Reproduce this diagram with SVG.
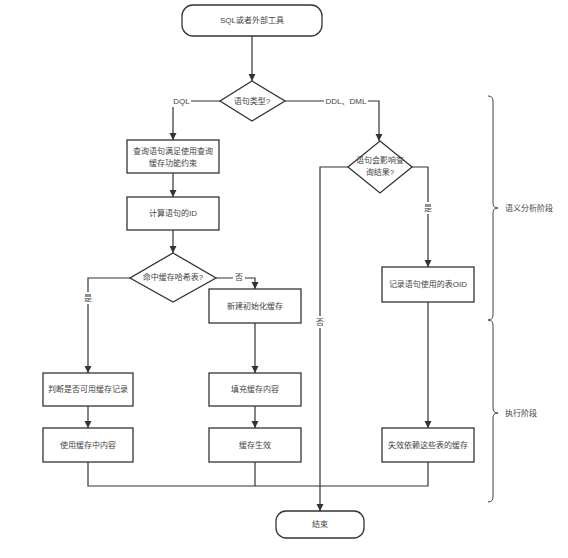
<svg xmlns="http://www.w3.org/2000/svg" width="568" height="558" viewBox="0 0 568 558">
<style>
.n{fill:#fff;stroke:#333;stroke-width:1.3}
.c{fill:none;stroke:#333;stroke-width:1.2}
.b{fill:none;stroke:#444;stroke-width:1}
text{font-family:"Liberation Sans","Noto Sans CJK SC",sans-serif;font-size:8px;fill:#444;text-anchor:middle;dominant-baseline:central}
.lb{fill:#fff;stroke:none}
</style>
<defs>
<marker id="ar" markerWidth="8" markerHeight="8" refX="7" refY="4" orient="auto" markerUnits="userSpaceOnUse">
<path d="M0,0.5 L7,4 L0,7.5 Z" fill="#333"/>
</marker>
</defs>
<rect width="568" height="558" fill="#fff"/>
<g id="connectors">
<path class="c" d="M252,36 V81" marker-end="url(#ar)"/>
<path class="c" d="M220,101 H173 V140" marker-end="url(#ar)"/>
<path class="c" d="M173,173 V197" marker-end="url(#ar)"/>
<path class="c" d="M173,230 V253" marker-end="url(#ar)"/>
<path class="c" d="M216,278 H255 V289" marker-end="url(#ar)"/>
<path class="c" d="M130,278 H88 V373" marker-end="url(#ar)"/>
<path class="c" d="M88,406 V428" marker-end="url(#ar)"/>
<path class="c" d="M255,323 V373" marker-end="url(#ar)"/>
<path class="c" d="M255,406 V428" marker-end="url(#ar)"/>
<path class="c" d="M88,462 V486 H428 V462"/>
<path class="c" d="M255,462 V486"/>
<path class="c" d="M285,101 H379 V141" marker-end="url(#ar)"/>
<path class="c" d="M412,167 H428 V267" marker-end="url(#ar)"/>
<path class="c" d="M428,302 V428" marker-end="url(#ar)"/>
<path class="c" d="M348,167 H320 V511" marker-end="url(#ar)"/>
<rect class="lb" x="172" y="95" width="19" height="12"/>
<text x="181.5" y="101">DQL</text>
<rect class="lb" x="324" y="95" width="44" height="12"/>
<text x="346" y="101">DDL、DML</text>
<rect class="lb" x="233" y="272" width="12" height="11"/>
<text x="239" y="277">否</text>
<rect class="lb" x="83" y="292" width="10" height="12"/>
<text x="88" y="298">是</text>
<rect class="lb" x="423" y="202" width="10" height="12"/>
<text x="428" y="208">是</text>
<rect class="lb" x="315" y="316" width="10" height="12"/>
<text x="320" y="322">否</text>
</g>
<g id="start"><rect class="n" x="182" y="5" width="140" height="31" rx="11"/><text x="252" y="20.5">SQL或者外部工具</text></g>
<g id="d-type"><polygon class="n" points="252,81 285,101 252,121 220,101"/><text x="252" y="101">语句类型?</text></g>
<g id="b-check"><rect class="n" x="127" y="140" width="92" height="33"/><text x="173" y="151">查询语句满足使用查询</text><text x="173" y="163">缓存功能约束</text></g>
<g id="b-id"><rect class="n" x="127" y="197" width="92" height="33"/><text x="173" y="213.5">计算语句的ID</text></g>
<g id="d-hit"><polygon class="n" points="173,253 216,278 173,302 130,278"/><text x="173" y="277.5">命中缓存哈希表?</text></g>
<g id="b-new"><rect class="n" x="209" y="289" width="92" height="34"/><text x="255" y="306">新建初始化缓存</text></g>
<g id="b-judge"><rect class="n" x="43" y="373" width="90" height="33"/><text x="88" y="389.5">判断是否可用缓存记录</text></g>
<g id="b-use"><rect class="n" x="43" y="428" width="90" height="34"/><text x="88" y="445">使用缓存中内容</text></g>
<g id="b-fill"><rect class="n" x="209" y="373" width="92" height="33"/><text x="255" y="389.5">填充缓存内容</text></g>
<g id="b-valid"><rect class="n" x="209" y="428" width="92" height="34"/><text x="255" y="445">缓存生效</text></g>
<g id="d-affect"><polygon class="n" points="380,141 412,167 380,193 348,167"/><text x="380" y="160">语句会影响查</text><text x="380" y="172">询结果?</text></g>
<g id="b-oid"><rect class="n" x="382" y="267" width="92" height="35"/><text x="428" y="284.5">记录语句使用的表OID</text></g>
<g id="b-inval"><rect class="n" x="382" y="428" width="92" height="34"/><text x="428" y="445">失效依赖这些表的缓存</text></g>
<g id="end"><rect class="n" x="276" y="511" width="88" height="27" rx="10"/><text x="320" y="524.5">结束</text></g>
<g id="phase-sem">
<path class="b" d="M488,96 Q493,96 493,101 V203 Q493,208 498,208 Q493,208 493,213 V315 Q493,320 488,320"/>
<text x="505" y="208" style="text-anchor:start">语义分析阶段</text>
</g>
<g id="phase-exec">
<path class="b" d="M488,320 Q493,320 493,325 V408 Q493,413 498,413 Q493,413 493,418 V497 Q493,502 488,502"/>
<text x="505" y="413" style="text-anchor:start">执行阶段</text>
</g>
</svg>
